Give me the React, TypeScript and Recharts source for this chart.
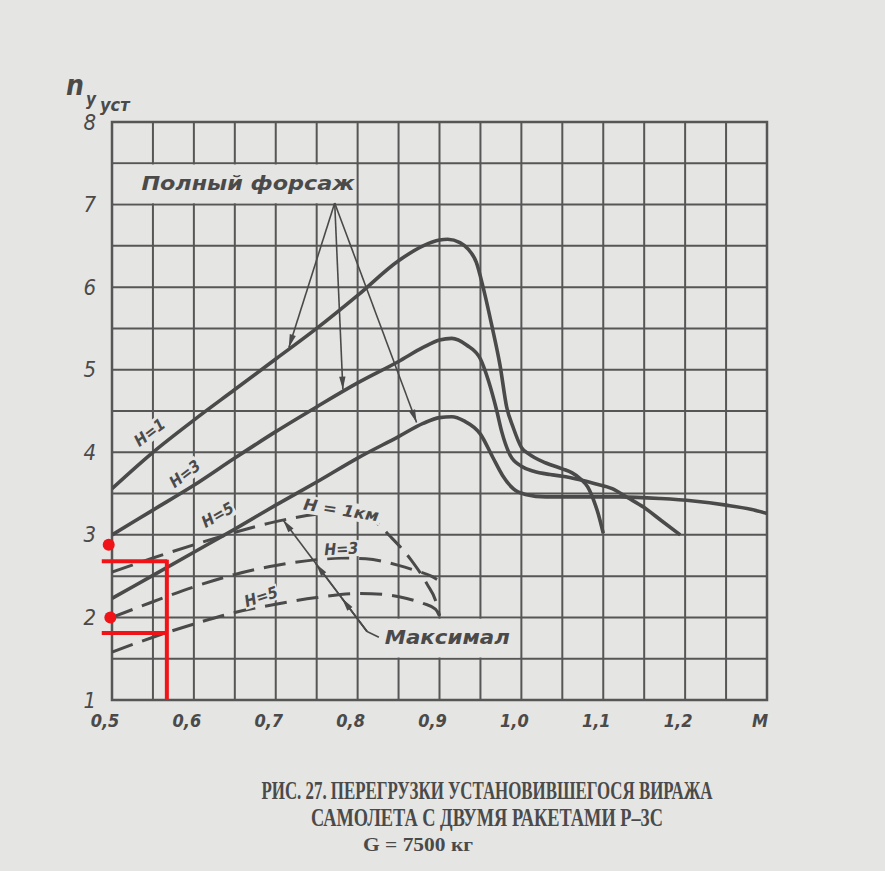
import React from "react";
import {
  LineChart,
  Line,
  XAxis,
  YAxis,
  ReferenceLine,
  ReferenceArea,
  ReferenceDot,
} from "recharts";

const W = 885;
const H = 871;
const PAPER = "#e5e5e3";
const INK = "#4a4a4a";
const GRID = "#565656";
const RED = "#f01418";
const HAND = "'DejaVu Sans Condensed', 'DejaVu Sans', sans-serif";

// Полный форсаж (solid curves): Mach number / steady load factor
const h1FullM = [0.5, 0.55, 0.6, 0.65, 0.7, 0.75, 0.8, 0.85, 0.88, 0.9, 0.91, 0.925, 0.935, 0.945, 0.953, 0.964, 0.974, 0.982, 0.99, 1.0, 1.009, 1.03, 1.05, 1.062, 1.072, 1.081, 1.089, 1.094, 1.1];
const h1FullN = [3.56, 4.0, 4.39, 4.76, 5.13, 5.5, 5.9, 6.32, 6.5, 6.57, 6.58, 6.54, 6.46, 6.3, 6.01, 5.53, 5.05, 4.55, 4.3, 4.06, 3.98, 3.87, 3.8, 3.75, 3.68, 3.58, 3.4, 3.25, 3.02];

const h3FullM = [0.5, 0.55, 0.6, 0.65, 0.7, 0.75, 0.8, 0.85, 0.88, 0.9, 0.915, 0.933, 0.95, 0.96, 0.97, 0.976, 0.986, 1.0, 1.015, 1.035, 1.05, 1.07, 1.09, 1.111, 1.13, 1.15, 1.17, 1.194];
const h3FullN = [3.0, 3.3, 3.6, 3.93, 4.25, 4.55, 4.84, 5.1, 5.27, 5.36, 5.38, 5.3, 5.13, 4.86, 4.5, 4.25, 3.97, 3.83, 3.77, 3.73, 3.71, 3.67, 3.62, 3.56, 3.45, 3.33, 3.18, 3.0];

const h5FullM = [0.5, 0.55, 0.6, 0.65, 0.7, 0.75, 0.8, 0.85, 0.88, 0.9, 0.915, 0.93, 0.95, 0.965, 0.977, 0.99, 1.005, 1.03, 1.07, 1.12, 1.17, 1.21, 1.25, 1.28, 1.3];
const h5FullN = [2.23, 2.51, 2.79, 3.07, 3.36, 3.64, 3.93, 4.19, 4.35, 4.42, 4.43, 4.38, 4.22, 3.94, 3.72, 3.56, 3.49, 3.46, 3.46, 3.46, 3.44, 3.41, 3.36, 3.31, 3.26];

// Максимал (dashed curves)
const h1MaxM = [0.5, 0.55, 0.6, 0.65, 0.7, 0.75, 0.78, 0.8, 0.82, 0.84, 0.865, 0.885, 0.896, 0.9];
const h1MaxN = [2.55, 2.72, 2.88, 3.03, 3.16, 3.25, 3.27, 3.24, 3.17, 2.98, 2.7, 2.4, 2.18, 2.02];

const h3MaxM = [0.5, 0.55, 0.6, 0.65, 0.7, 0.75, 0.78, 0.81, 0.85, 0.87, 0.89, 0.897];
const h3MaxN = [2.0, 2.19, 2.37, 2.52, 2.63, 2.7, 2.72, 2.71, 2.63, 2.57, 2.5, 2.46];

const h5MaxM = [0.5, 0.55, 0.6, 0.65, 0.7, 0.75, 0.8, 0.83, 0.86, 0.88, 0.895, 0.9];
const h5MaxN = [1.58, 1.76, 1.92, 2.06, 2.16, 2.24, 2.29, 2.28, 2.23, 2.17, 2.1, 2.02];

// axes
const xTicks = [0.5, 0.6, 0.7, 0.8, 0.9, 1.0, 1.1, 1.2, 1.3];
const xTickLabels = ["0,5", "0,6", "0,7", "0,8", "0,9", "1,0", "1,1", "1,2", "M"];
const yTicks = [1, 2, 3, 4, 5, 6, 7, 8];
const gridM = [0.55, 0.6, 0.65, 0.7, 0.75, 0.8, 0.85, 0.9, 0.95, 1.0, 1.05, 1.1, 1.15, 1.2, 1.25];
const gridN = [1.5, 2, 2.5, 3, 3.5, 4, 4.5, 5, 5.5, 6, 6.5, 7, 7.5];

const pts = (ms: number[], ns: number[]) => ms.map((m, i) => ({ m, n: ns[i] }));

const h1Full = pts(h1FullM, h1FullN);
const h3Full = pts(h3FullM, h3FullN);
const h5Full = pts(h5FullM, h5FullN);
const h1Max = pts(h1MaxM, h1MaxN);
const h3Max = pts(h3MaxM, h3MaxN);
const h5Max = pts(h5MaxM, h5MaxN);

function XTick(p: any) {
  const i = xTicks.indexOf(p.payload.value);
  return (
    <text x={p.x - 7} y={727} textAnchor="middle" fontFamily={HAND} fontStyle="italic"
      fontWeight="bold" fontSize={18} fill={INK}>
      {xTickLabels[i]}
    </text>
  );
}

function YTick(p: any) {
  return (
    <text x={96} y={p.y} dominantBaseline="central" textAnchor="end" fontFamily={HAND}
      fontStyle="italic" fontSize={22} fill={INK}>
      {p.payload.value}
    </text>
  );
}

/** Arrow drawn along a ReferenceLine segment, head at the second point. */
function Arrow(p: any) {
  const { x1, y1, x2, y2 } = p;
  const a = Math.atan2(y2 - y1, x2 - x1);
  const len = 13;
  const w = 3.2;
  const bx = x2 - len * Math.cos(a);
  const by = y2 - len * Math.sin(a);
  const ox = -Math.sin(a) * w;
  const oy = Math.cos(a) * w;
  return (
    <g>
      <line x1={x1} y1={y1} x2={x2} y2={y2} stroke={INK} strokeWidth={1.6} />
      <polygon points={`${x2},${y2} ${bx + ox},${by + oy} ${bx - ox},${by - oy}`} fill={INK} />
    </g>
  );
}

function tag(text: string, size: number, rot = 0, bgW = 0, bgH = 0, len?: number) {
  return (p: any) => (
    <g transform={`translate(${p.cx},${p.cy}) rotate(${rot})`}>
      {bgW > 0 && <rect x={-bgW / 2} y={-bgH / 2} width={bgW} height={bgH} fill={PAPER} />}
      <text x={0} y={0} textAnchor="middle" dominantBaseline="central" fontFamily={HAND}
        fontStyle="italic" fontWeight="bold" fontSize={size} fill={INK}
        textLength={len} lengthAdjust={len ? "spacingAndGlyphs" : undefined}>
        {text}
      </text>
    </g>
  );
}

function AxisTitle(p: any) {
  const { cx, cy } = p;
  return (
    <g fill={INK} fontFamily={HAND} fontStyle="italic" fontWeight="bold">
      <text x={cx - 46} y={cy - 27} fontSize={28}>n</text>
      <text x={cx - 26} y={cy - 17} fontSize={17}>y</text>
      <text x={cx - 12} y={cy - 11} fontSize={18}>уст</text>
    </g>
  );
}

const redDot = (p: any) => <circle cx={p.cx} cy={p.cy} r={6} fill={RED} />;

export default function App() {
  const solid = { type: "monotone" as const, stroke: INK, strokeWidth: 3.6, dot: false, activeDot: false, isAnimationActive: false };
  const dashed = { ...solid, strokeWidth: 3, strokeDasharray: "22 10" };
  return (
    <div style={{ position: "absolute", left: 0, top: 0, width: W, height: H, background: PAPER, overflow: "hidden" }}>
      <LineChart width={W} height={H} margin={{ top: 122, right: 118, bottom: 141, left: 52 }}>
        <XAxis type="number" dataKey="m" domain={[0.5, 1.3]} ticks={xTicks} interval={0}
          allowDataOverflow axisLine={false} tickLine={false} height={30} tick={XTick} />
        <YAxis type="number" dataKey="n" domain={[1, 8]} ticks={yTicks} interval={0}
          allowDataOverflow axisLine={false} tickLine={false} width={60} tick={YTick} />

        {gridM.map((v) => (
          <ReferenceLine key={`gx${v}`} x={v} stroke={GRID} strokeWidth={2} zIndex={10} />
        ))}
        {gridN.map((v) => (
          <ReferenceLine key={`gy${v}`} y={v} stroke={GRID} strokeWidth={2} zIndex={10} />
        ))}

        {/* paper under the two big captions */}
        <ReferenceArea x1={0.502} x2={0.798} y1={7.015} y2={7.485} fill={PAPER} fillOpacity={1} stroke="none" zIndex={20} />
        <ReferenceArea x1={0.802} x2={0.998} y1={1.515} y2={1.985} fill={PAPER} fillOpacity={1} stroke="none" zIndex={20} />

        {/* plot frame */}
        <ReferenceArea x1={0.5} x2={1.3} y1={1} y2={8} fill="none" fillOpacity={0} stroke={GRID} strokeWidth={2.5} zIndex={30} />

        <Line data={h1Full} dataKey="n" {...solid} zIndex={400} />
        <Line data={h3Full} dataKey="n" {...solid} zIndex={400} />
        <Line data={h5Full} dataKey="n" {...solid} zIndex={400} />
        <Line data={h1Max} dataKey="n" {...dashed} zIndex={400} />
        <Line data={h3Max} dataKey="n" {...dashed} zIndex={400} />
        <Line data={h5Max} dataKey="n" {...dashed} zIndex={400} />

        {/* pointers */}
        <ReferenceLine segment={[{ x: 0.772, y: 7.02 }, { x: 0.716, y: 5.27 }]} shape={Arrow} ifOverflow="visible" zIndex={450} />
        <ReferenceLine segment={[{ x: 0.772, y: 7.02 }, { x: 0.782, y: 4.76 }]} shape={Arrow} ifOverflow="visible" zIndex={450} />
        <ReferenceLine segment={[{ x: 0.772, y: 7.02 }, { x: 0.872, y: 4.36 }]} shape={Arrow} ifOverflow="visible" zIndex={450} />
        <ReferenceLine segment={[{ x: 0.8115, y: 1.83 }, { x: 0.709, y: 3.18 }]} shape={Arrow} ifOverflow="visible" zIndex={450} />
        <ReferenceLine segment={[{ x: 0.8115, y: 1.83 }, { x: 0.749, y: 2.65 }]} shape={Arrow} ifOverflow="visible" zIndex={450} />
        <ReferenceLine segment={[{ x: 0.8115, y: 1.83 }, { x: 0.781, y: 2.23 }]} shape={Arrow} ifOverflow="visible" zIndex={450} />
        <ReferenceLine segment={[{ x: 0.8115, y: 1.83 }, { x: 0.826, y: 1.76 }]} stroke={INK} strokeWidth={1.6} ifOverflow="visible" zIndex={450} />

        {/* texts */}
        <ReferenceDot x={0.666} y={7.26} ifOverflow="visible" shape={tag("Полный форсаж", 19, 0, 0, 0, 213)} zIndex={500} />
        <ReferenceDot x={0.9095} y={1.76} ifOverflow="visible" shape={tag("Максимал", 20, 0, 0, 0, 125)} zIndex={500} />
        <ReferenceDot x={0.546} y={4.24} ifOverflow="visible" shape={tag("H=1", 16, -37, 36, 18)} zIndex={500} />
        <ReferenceDot x={0.589} y={3.74} ifOverflow="visible" shape={tag("H=3", 16, -37, 36, 18)} zIndex={500} />
        <ReferenceDot x={0.629} y={3.24} ifOverflow="visible" shape={tag("H=5", 16, -30, 36, 18)} zIndex={500} />
        <ReferenceDot x={0.78} y={3.3} ifOverflow="visible" shape={tag("H = 1км", 16, 9, 80, 18, 76)} zIndex={500} />
        <ReferenceDot x={0.78} y={2.83} ifOverflow="visible" shape={tag("H=3", 16, -3, 36, 16)} zIndex={500} />
        <ReferenceDot x={0.682} y={2.25} ifOverflow="visible" shape={tag("H=5", 16, -18, 36, 16)} zIndex={500} />
        <ReferenceDot x={0.5} y={8} ifOverflow="visible" shape={AxisTitle} zIndex={500} />

        {/* red pencil marks */}
        <ReferenceLine segment={[{ x: 0.4875, y: 2.68 }, { x: 0.5675, y: 2.68 }]} stroke={RED} strokeWidth={4} ifOverflow="visible" zIndex={600} />
        <ReferenceLine segment={[{ x: 0.4875, y: 1.81 }, { x: 0.5675, y: 1.81 }]} stroke={RED} strokeWidth={4} ifOverflow="visible" zIndex={600} />
        <ReferenceLine segment={[{ x: 0.567, y: 2.7 }, { x: 0.567, y: 1.0 }]} stroke={RED} strokeWidth={4} ifOverflow="visible" zIndex={600} />
        <ReferenceDot x={0.496} y={2.88} ifOverflow="visible" shape={redDot} zIndex={600} />
        <ReferenceDot x={0.498} y={2.0} ifOverflow="visible" shape={redDot} zIndex={600} />
      </LineChart>

      <svg width={W} height={H} style={{ position: "absolute", left: 0, top: 0, pointerEvents: "none" }}>
        <g fill={INK} fontFamily="'Liberation Serif', serif" fontWeight="bold" textAnchor="middle">
          <text x={487} y={799} fontSize={22} textLength={451} lengthAdjust="spacingAndGlyphs"
            transform="translate(487 799) scale(1 1.15) translate(-487 -799)">
            РИС. 27. ПЕРЕГРУЗКИ УСТАНОВИВШЕГОСЯ ВИРАЖА
          </text>
          <text x={487} y={826} fontSize={22} textLength={352} lengthAdjust="spacingAndGlyphs"
            transform="translate(487 826) scale(1 1.15) translate(-487 -826)">
            САМОЛЕТА С ДВУМЯ РАКЕТАМИ Р–3С
          </text>
          <text x={418} y={851} fontSize={19} textLength={110} lengthAdjust="spacingAndGlyphs">
            G = 7500 кг
          </text>
        </g>
      </svg>
    </div>
  );
}
